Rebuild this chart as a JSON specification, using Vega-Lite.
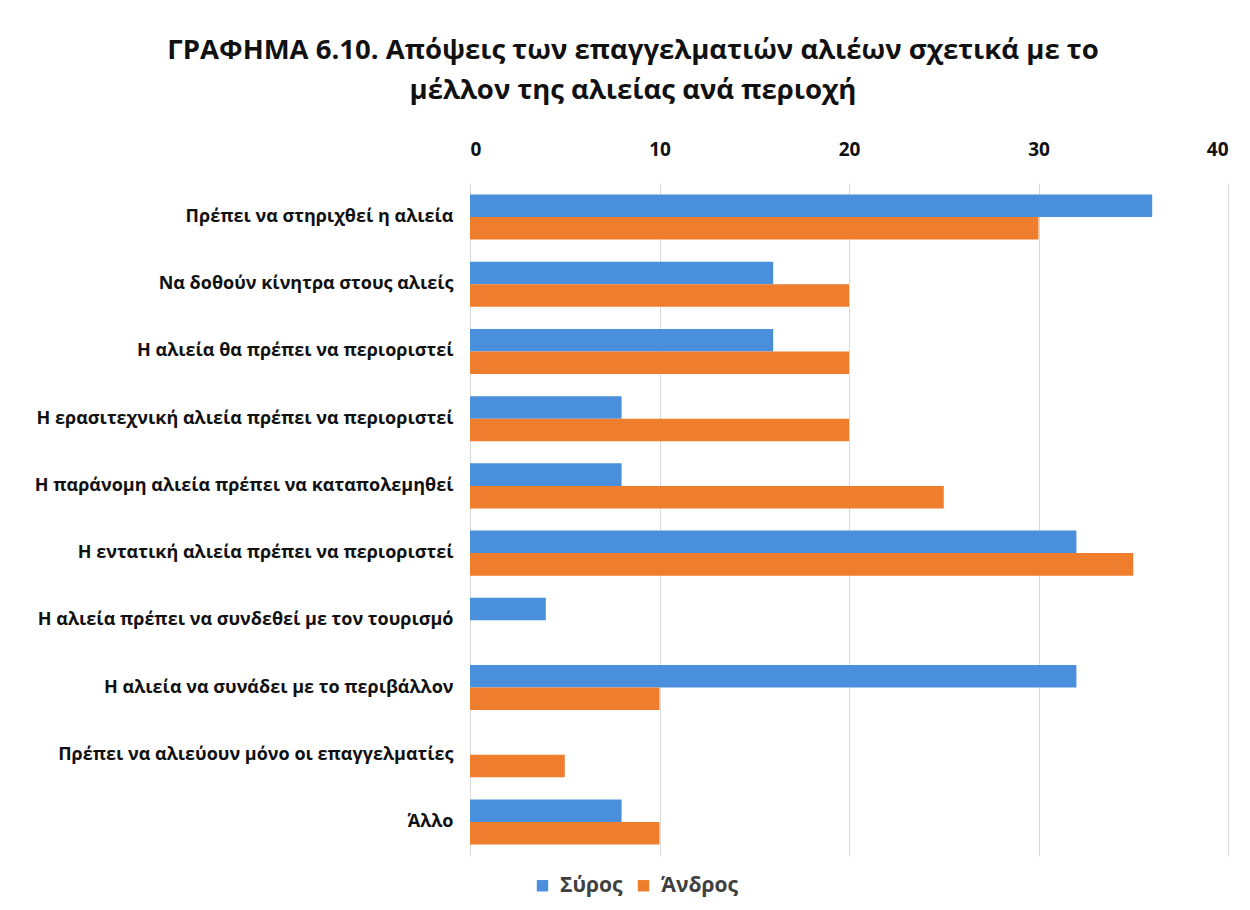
{
  "$schema": "https://vega.github.io/schema/vega-lite/v6.json",
  "autosize": {"type": "none"},
  "width": 758,
  "height": 673,
  "padding": {"left": 470, "top": 183, "right": 22, "bottom": 54},
  "background": "white",
  "config": {
    "font": "Open Sans",
    "view": {"stroke": null}
  },
  "title": {
    "text": ["ΓΡΑΦΗΜΑ 6.10. Απόψεις των επαγγελματιών αλιέων σχετικά με το", "μέλλον της αλιείας ανά περιοχή"],
    "font": "Open Sans",
    "fontSize": 27.5,
    "fontWeight": "bold",
    "color": "#111111",
    "anchor": "middle",
    "dx": -216,
    "offset": 36,
    "lineHeight": 40
  },
  "data": {
    "values": [
      {"cat": "Πρέπει να στηριχθεί η αλιεία", "region": "Σύρος", "value": 36},
      {"cat": "Πρέπει να στηριχθεί η αλιεία", "region": "Άνδρος", "value": 30},
      {"cat": "Να δοθούν κίνητρα στους αλιείς", "region": "Σύρος", "value": 16},
      {"cat": "Να δοθούν κίνητρα στους αλιείς", "region": "Άνδρος", "value": 20},
      {"cat": "Η αλιεία θα πρέπει να περιοριστεί", "region": "Σύρος", "value": 16},
      {"cat": "Η αλιεία θα πρέπει να περιοριστεί", "region": "Άνδρος", "value": 20},
      {"cat": "Η ερασιτεχνική αλιεία πρέπει να περιοριστεί", "region": "Σύρος", "value": 8},
      {"cat": "Η ερασιτεχνική αλιεία πρέπει να περιοριστεί", "region": "Άνδρος", "value": 20},
      {"cat": "Η παράνομη αλιεία πρέπει να καταπολεμηθεί", "region": "Σύρος", "value": 8},
      {"cat": "Η παράνομη αλιεία πρέπει να καταπολεμηθεί", "region": "Άνδρος", "value": 25},
      {"cat": "Η εντατική αλιεία πρέπει να περιοριστεί", "region": "Σύρος", "value": 32},
      {"cat": "Η εντατική αλιεία πρέπει να περιοριστεί", "region": "Άνδρος", "value": 35},
      {"cat": "Η αλιεία πρέπει να συνδεθεί με τον τουρισμό", "region": "Σύρος", "value": 4},
      {"cat": "Η αλιεία πρέπει να συνδεθεί με τον τουρισμό", "region": "Άνδρος", "value": 0},
      {"cat": "Η αλιεία να συνάδει με το περιβάλλον", "region": "Σύρος", "value": 32},
      {"cat": "Η αλιεία να συνάδει με το περιβάλλον", "region": "Άνδρος", "value": 10},
      {"cat": "Πρέπει να αλιεύουν μόνο οι επαγγελματίες", "region": "Σύρος", "value": 0},
      {"cat": "Πρέπει να αλιεύουν μόνο οι επαγγελματίες", "region": "Άνδρος", "value": 5},
      {"cat": "Άλλο", "region": "Σύρος", "value": 8},
      {"cat": "Άλλο", "region": "Άνδρος", "value": 10}
    ]
  },
  "mark": {"type": "bar"},
  "encoding": {
    "y": {
      "field": "cat",
      "type": "nominal",
      "sort": null,
      "scale": {"paddingInner": 0.33, "paddingOuter": 0.17},
      "axis": {
        "title": null,
        "ticks": false,
        "domain": false,
        "labelFontSize": 18,
        "labelFontWeight": "bold",
        "labelColor": "#111111",
        "labelPadding": 17,
        "labelLimit": 500
      }
    },
    "yOffset": {
      "field": "region",
      "type": "nominal",
      "sort": ["Σύρος", "Άνδρος"]
    },
    "x": {
      "field": "value",
      "type": "quantitative",
      "scale": {"domain": [0, 40]},
      "axis": {
        "orient": "top",
        "title": null,
        "values": [0, 10, 20, 30, 40],
        "ticks": false,
        "domain": false,
        "grid": true,
        "gridColor": "#d9d9d9",
        "gridWidth": 1,
        "labelFontSize": 19,
        "labelFontWeight": "bold",
        "labelColor": "#111111",
        "labelPadding": 24
      }
    },
    "color": {
      "field": "region",
      "type": "nominal",
      "sort": ["Σύρος", "Άνδρος"],
      "scale": {"domain": ["Σύρος", "Άνδρος"], "range": ["#4a8fdb", "#ef7d2e"]},
      "legend": {
        "title": null,
        "orient": "none",
        "direction": "horizontal",
        "legendX": 62,
        "legendY": 692,
        "symbolType": "square",
        "symbolSize": 130,
        "symbolStrokeWidth": 0,
        "labelFontSize": 21,
        "labelFontWeight": "bold",
        "labelColor": "#404040",
        "columnPadding": 10,
        "labelOffset": 7
      }
    }
  }
}
